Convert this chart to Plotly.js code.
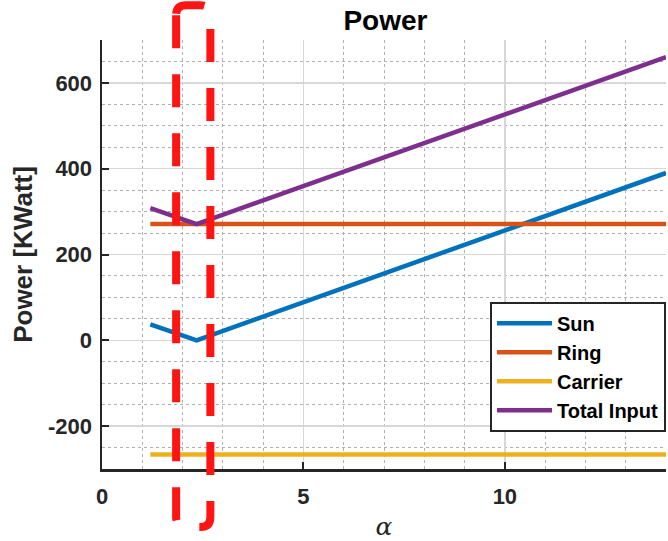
<!DOCTYPE html>
<html>
<head>
<meta charset="utf-8">
<script src="https://cdn.plot.ly/plotly-3.0.1.min.js"></script>
<style>html,body{margin:0;padding:0;background:#fff;}#chart{width:668px;height:541px;}</style>
</head>
<body>
<div id="chart"></div>
<script>
// ---- data ----
const alpha = [1.2, 2.35, 14];
const sun = [37, 0, 390];
const ring = [271, 271, 271];
const carrier = [-266, -266, -266];
const totalInput = [308, 271, 660];
const seriesNames = ['Sun', 'Ring', 'Carrier', 'Total Input'];
const seriesColors = ['#0072BD', '#D95319', '#EDB120', '#7E2F8E'];
const xTicks = [0, 5, 10];
const yTicks = [-200, 0, 200, 400, 600];
const xRange = [0, 14];
const yRange = [-300, 700];
const highlight = [1.84, 2.69]; // alpha window marked by the red dashed box

const series = [sun, ring, carrier, totalInput];
const traces = series.map((s, i) => ({
  x: alpha, y: s, type: 'scatter', mode: 'lines', name: seriesNames[i],
  line: {color: seriesColors[i], width: 4.5}
}));

const tickFont = {family: 'Liberation Sans, Arial, sans-serif', size: 22, color: '#262626', weight: 'bold'};

// rounded rectangle in paper coordinates
const px0 = (highlight[0] - xRange[0]) / (xRange[1] - xRange[0]);
const px1 = (highlight[1] - xRange[0]) / (xRange[1] - xRange[0]);
const py0 = -0.135, py1 = 1.081;
const rx = 10 / 565, ry = 10 / 429;
const path = `M${px0},${py1 - ry} L${px0},${py0 + ry} Q${px0},${py0} ${px0 + rx},${py0} L${px1 - rx},${py0} Q${px1},${py0} ${px1},${py0 + ry} L${px1},${py1 - ry} Q${px1},${py1} ${px1 - rx},${py1} L${px0 + rx},${py1} Q${px0},${py1} ${px0},${py1 - ry}`;

const layout = {
  width: 668, height: 541,
  margin: {l: 102, r: 2, t: 40, b: 72, pad: 0},
  paper_bgcolor: '#fff', plot_bgcolor: '#fff',
  showlegend: true,
  title: {text: 'Power', x: 0.577, xanchor: 'center', y: 0.963, yanchor: 'middle',
    font: {family: 'Liberation Sans, Arial, sans-serif', size: 28, color: '#000', weight: 'bold'}},
  xaxis: {
    range: xRange, tickvals: xTicks, ticktext: xTicks.map(String),
    ticks: 'inside', ticklen: 7, tickwidth: 2, tickcolor: '#262626',
    showline: true, linecolor: '#262626', linewidth: 2.5, mirror: false,
    showgrid: true, gridcolor: '#d7d7d7', gridwidth: 1.5, zeroline: false,
    minor: {dtick: 1, tick0: 0, showgrid: true, gridcolor: '#b0b0b0', gridwidth: 1, griddash: 'dot', ticks: ''},
    tickfont: tickFont, ticklabelstandoff: 6,
    title: {text: 'α', standoff: 10, font: {family: 'DejaVu Serif, Liberation Serif, serif', size: 25, color: '#262626', style: 'italic'}}
  },
  yaxis: {
    range: yRange, tickvals: yTicks, ticktext: yTicks.map(String),
    ticks: 'inside', ticklen: 7, tickwidth: 2, tickcolor: '#262626',
    showline: true, linecolor: '#262626', linewidth: 2.5, mirror: false,
    showgrid: true, gridcolor: '#d7d7d7', gridwidth: 1.5, zeroline: false,
    minor: {dtick: 50, tick0: 0, showgrid: true, gridcolor: '#b0b0b0', gridwidth: 1, griddash: 'dot', ticks: ''},
    tickfont: tickFont, ticklabelstandoff: 3,
    title: {text: 'Power [KWatt]', standoff: 8, font: {family: 'Liberation Sans, Arial, sans-serif', size: 26, color: '#262626', weight: 'bold'}}
  },
  legend: {
    x: 1, xanchor: 'right', y: 0.39, yanchor: 'top',
    bgcolor: '#fff', bordercolor: '#262626', borderwidth: 2,
    font: {family: 'Liberation Sans, Arial, sans-serif', size: 20, color: '#000', weight: 'bold'},
    itemwidth: 55, tracegroupgap: 0, traceorder: 'normal'
  },
  shapes: [{
    type: 'path', xref: 'paper', yref: 'paper', path: path, layer: 'above',
    line: {color: 'rgb(255,20,20)', width: 8, dash: '33px,26px'}
  }]
};

Plotly.newPlot('chart', traces, layout, {displayModeBar: false, staticPlot: true});
</script>
</body>
</html>
